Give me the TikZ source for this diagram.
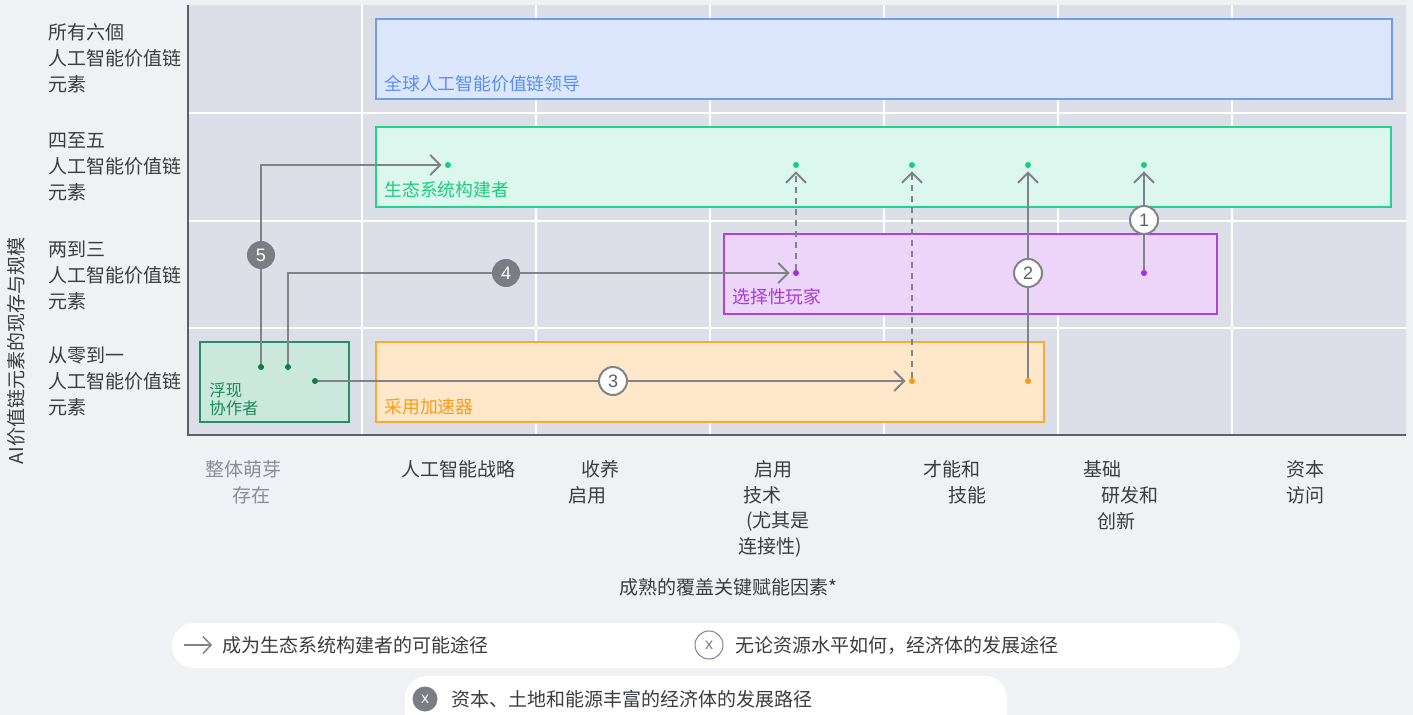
\documentclass[tikz,border=0pt]{standalone}
\usepackage{fontspec}
\setmainfont{Noto Sans CJK SC}
\newfontfamily\numfont{Liberation Sans}
\usetikzlibrary{arrows.meta}
\definecolor{pagebg}{HTML}{F0F1F5}
\definecolor{plotbg}{HTML}{DCDFE7}
\definecolor{axisgray}{HTML}{5E6066}
\definecolor{txt}{HTML}{3B3C40}
\definecolor{txtlight}{HTML}{8A8D94}
\definecolor{pathgray}{HTML}{818389}
\definecolor{numgray}{HTML}{7A7D84}
\definecolor{leadfill}{HTML}{DCE7FD}
\definecolor{leadline}{HTML}{6E9DF0}
\definecolor{leadtxt}{HTML}{5A8EF0}
\definecolor{ecofill}{HTML}{DCF8EE}
\definecolor{ecoline}{HTML}{22D38A}
\definecolor{ecotxt}{HTML}{1CCB7C}
\definecolor{ecodot}{HTML}{12D17E}
\definecolor{selfill}{HTML}{ECD5F8}
\definecolor{selline}{HTML}{B240E6}
\definecolor{seltxt}{HTML}{A83BD9}
\definecolor{seldot}{HTML}{A22FDF}
\definecolor{adofill}{HTML}{FFE8C9}
\definecolor{adoline}{HTML}{FBAA34}
\definecolor{adotxt}{HTML}{F89C1C}
\definecolor{adodot}{HTML}{FB980E}
\definecolor{colfill}{HTML}{CBE8DC}
\definecolor{colline}{HTML}{22905F}
\definecolor{coltxt}{HTML}{1A8A58}
\definecolor{coldot}{HTML}{0D7A49}
\tikzset{
  lbl/.style={font=\fontsize{9.5}{13}\selectfont,text=txt,inner sep=0pt},
  rowlbl/.style={lbl,anchor=west,align=left},
  boxlbl/.style={font=\fontsize{8.9}{11}\selectfont,inner sep=0pt,anchor=west},
  dot/.style={circle,inner sep=0pt,minimum size=3pt},
  route/.style={draw=pathgray,line width=1pt,shorten >=1.5pt,
    -{Straight Barb[length=5pt,width=10pt]}},
  hint/.style={route,dash pattern=on 3pt off 2.5pt},
  numdark/.style={circle,fill=numgray,text=white,minimum size=14pt,inner sep=0pt,
    font=\numfont\fontsize{9}{9}\selectfont},
  numlight/.style={circle,fill=white,draw=pathgray,line width=1pt,text=axisgray,
    minimum size=14pt,inner sep=0pt,font=\numfont\fontsize{9}{9}\selectfont}
}
\begin{document}
\begin{tikzpicture}[x=0.5pt,y=-0.5pt]
  \useasboundingbox (0,0) rectangle (1413,715);
  \fill[pagebg] (0,0) rectangle (1413,715);
  % plot area and grid
  \fill[plotbg] (188,5) rectangle (1406,435);
  \foreach \x in {362,536,710,884,1058,1232} \draw[white,line width=1pt] (\x,5)--(\x,435);
  \foreach \y in {113,221,328} \draw[white,line width=1pt] (188,\y)--(1406,\y);
  \draw[axisgray,line width=1pt] (188,5)--(188,435)--(1406,435);
  % row labels
  \node[rowlbl] (r4) at (48,58) {所有六個\\人工智能价值链\\元素};
  \node[rowlbl] (r3) at (48,167) {四至五\\人工智能价值链\\元素};
  \node[rowlbl] (r2) at (48,275) {两到三\\人工智能价值链\\元素};
  \node[rowlbl] (r1) at (48,381) {从零到一\\人工智能价值链\\元素};
  \node[lbl,rotate=90] (ytitle) at (16,351) {AI价值链元素的现存与规模};
  % boxes
  \draw[fill=leadfill,draw=leadline,line width=1pt] (376,19) rectangle (1392,99);
  \node[boxlbl,text=leadtxt] (lead) at (384,84) {全球人工智能价值链领导};
  \draw[fill=ecofill,draw=ecoline,line width=1pt] (376,127) rectangle (1391,207);
  \node[boxlbl,text=ecotxt] (eco) at (384,190) {生态系统构建者};
  \draw[fill=selfill,draw=selline,line width=1pt] (724,234) rectangle (1217,314);
  \node[boxlbl,text=seltxt] (sel) at (732,297) {选择性玩家};
  \draw[fill=adofill,draw=adoline,line width=1pt] (376,342) rectangle (1044,422);
  \node[boxlbl,text=adotxt] (ado) at (384,407) {采用加速器};
  \draw[fill=colfill,draw=colline,line width=1pt] (200,342) rectangle (349,422);
  \node[boxlbl,text=coltxt,align=left,font=\fontsize{8.2}{9}\selectfont] (col) at (209,399) {浮现\\协作者};
  % dots
  \node[dot,fill=ecodot] (e1) at (448,165) {}; \node[dot,fill=ecodot] (e2) at (796,165) {};
  \node[dot,fill=ecodot] (e3) at (912,165) {}; \node[dot,fill=ecodot] (e4) at (1028,165) {};
  \node[dot,fill=ecodot] (e5) at (1144,165) {};
  \node[dot,fill=seldot] (s1) at (796,273) {}; \node[dot,fill=seldot] (s2) at (1144,273) {};
  \node[dot,fill=adodot] (o1) at (912,381) {}; \node[dot,fill=adodot] (o2) at (1028,381) {};
  \node[dot,fill=coldot] (z1) at (261,367) {}; \node[dot,fill=coldot] (z2) at (288,367) {};
  \node[dot,fill=coldot] (z3) at (315,381) {};
  % paths
  \draw[route] (z1) |- (e1);
  \draw[route] (z2) |- (s1);
  \draw[route] (z3) -- (o1);
  \draw[hint] (s1) -- (e2);
  \draw[hint] (o1) -- (e3);
  \draw[route] (o2) -- (e4);
  \draw[route] (s2) -- (e5);
  \node[numdark] (n5) at (261,255) {5};
  \node[numdark] (n4) at (506,273) {4};
  \node[numlight] (n3) at (613,381) {3};
  \node[numlight] (n2) at (1028,273) {2};
  \node[numlight] (n1) at (1144,220) {1};
  % x axis labels
  \node[lbl,text=txtlight] (t1a) at (243,469) {整体萌芽}; \node[lbl,text=txtlight] (t1b) at (251,495) {存在};
  \node[lbl] (t2a) at (458,469) {人工智能战略};
  \node[lbl] (t3a) at (600,469) {收养}; \node[lbl] (t3b) at (587,495) {启用};
  \node[lbl] (t4a) at (773,469) {启用}; \node[lbl] (t4b) at (762,495) {技术};
  \node[lbl] (t4c) at (778,521) {(尤其是}; \node[lbl] (t4d) at (770,547) {连接性)};
  \node[lbl] (t5a) at (952,469) {才能和}; \node[lbl] (t5b) at (967,495) {技能};
  \node[lbl] (t6a) at (1102,469) {基础}; \node[lbl] (t6b) at (1130,495) {研发和};
  \node[lbl] (t6c) at (1116,521) {创新};
  \node[lbl] (t7a) at (1305,469) {资本}; \node[lbl] (t7b) at (1305,495) {访问};
  \node[lbl] (xtitle) at (728,587) {成熟的覆盖关键赋能因素*};
  % legend
  \fill[white,rounded corners=11pt] (172,623) rectangle (1240,668);
  \fill[white,rounded corners=11pt] (405,676) rectangle (1007,760);
  \coordinate (k1) at (184,645); \coordinate (k2) at (212,645);
  \draw[pathgray,line width=0.75pt,-{Straight Barb[length=4pt,width=8.5pt]}] (k1) -- (k2);
  \node[lbl,anchor=west] (leg1) at (222,645) {成为生态系统构建者的可能途径};
  \node[circle,draw=pathgray,fill=white,line width=0.5pt,minimum size=14pt,inner sep=0pt,
    text=pathgray,font=\numfont\fontsize{8}{8}\selectfont] (kx1) at (709,645) {x};
  \node[lbl,anchor=west] (leg2) at (735,645) {无论资源水平如何，经济体的发展途径};
  \node[numdark,minimum size=12.5pt,font=\numfont\fontsize{8}{8}\selectfont] (kx2) at (425,699) {x};
  \node[lbl,anchor=west] (leg3) at (451,699) {资本、土地和能源丰富的经济体的发展路径};
\end{tikzpicture}
\end{document}
